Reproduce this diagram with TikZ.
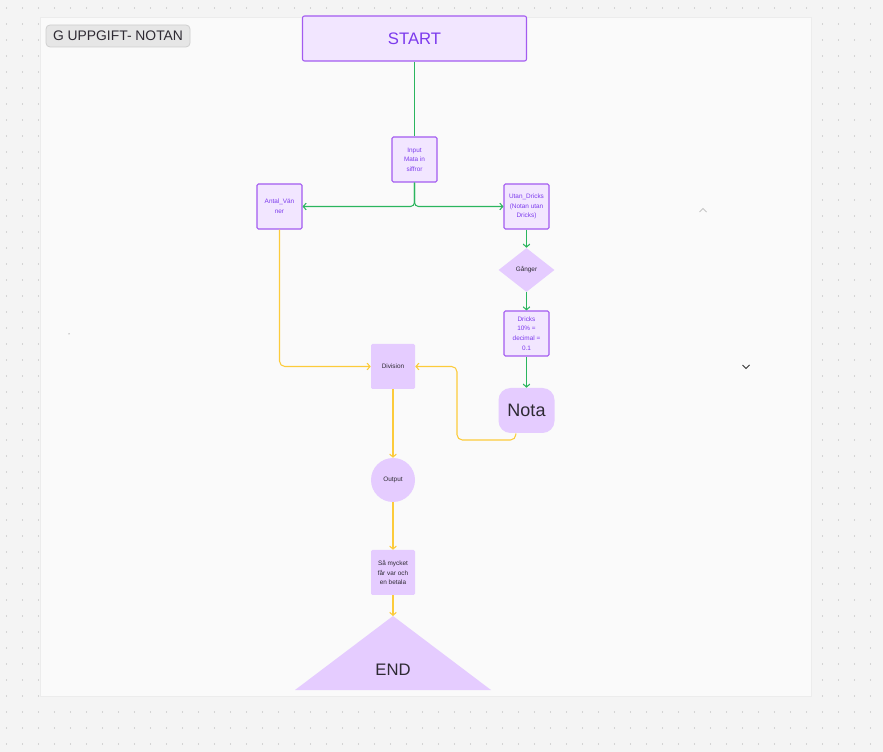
\documentclass[tikz,border=0pt]{standalone}
\usepackage{fontspec}
\setmainfont{Liberation Sans}
\usetikzlibrary{shapes.geometric,arrows.meta}
\definecolor{canvasbg}{HTML}{F4F4F4}
\definecolor{canvasdot}{HTML}{B5B5B5}
\definecolor{boardbg}{HTML}{FAFAFA}
\definecolor{boardline}{HTML}{ECECEC}
\definecolor{lightfill}{HTML}{F2E6FF}
\definecolor{darkfill}{HTML}{E5CCFF}
\definecolor{purpleline}{HTML}{A35BF0}
\definecolor{purpletext}{HTML}{7C3AED}
\definecolor{inktext}{HTML}{2E2A33}
\definecolor{flowgreen}{HTML}{2BB55E}
\definecolor{flowyellow}{HTML}{FCCB3B}
\definecolor{tagfill}{HTML}{E6E6E6}
\definecolor{tagline}{HTML}{CFCFCF}
\tikzset{
  tiny/.style={font=\fontsize{4.8}{7.2}\selectfont},
  lightbox/.style={draw=purpleline, line width=0.8pt, fill=lightfill, rounded corners=1pt,
    text=purpletext, align=center, inner sep=0pt, minimum width=33.75pt, minimum height=33.75pt, tiny},
  darkbox/.style={fill=darkfill, rounded corners=1pt, text=inktext, align=center, inner sep=0pt,
    minimum width=33pt, minimum height=33.75pt, tiny},
  greenflow/.style={draw=flowgreen, line width=0.8pt, rounded corners=3pt,
    -{Straight Barb[length=2.2pt,width=5pt,line width=0.8pt]}},
  yellowflow/.style={draw=flowyellow, line width=0.8pt, rounded corners=4pt,
    -{Straight Barb[length=2.2pt,width=5pt,line width=0.8pt]}},
}
\begin{document}
\begin{tikzpicture}[x=0.75pt,y=-0.75pt]
  % canvas with dotted grid
  \fill[canvasbg] (0,0) rectangle (883,752);
  \useasboundingbox (0,0) rectangle (883,752);
  \foreach \gx in {0,...,55} {
    \foreach \gy in {0,...,46} {
      \fill[canvasdot] (6.5+16*\gx, 8+16*\gy) circle (0.6);
    }
  }
  % white board
  \fill[boardbg, draw=boardline, line width=0.5pt] (40,17) rectangle (811,696);

  % title tag
  \node[draw=tagline, fill=tagfill, rounded corners=3pt, line width=0.6pt, text=inktext,
        minimum width=108pt, minimum height=16.5pt, inner sep=0pt,
        font=\fontsize{10.4}{13}\selectfont] (title) at (118,36) {G UPPGIFT- NOTAN};

  % flow nodes
  \node[lightbox, minimum width=168pt, minimum height=33.75pt, rounded corners=1.5pt,
        font=\fontsize{12.5}{15}\selectfont] (start) at (414.5,38.5) {START};
  \node[lightbox] (inp) at (414.5,159.5) {Input\\Mata in\\siffror};
  \node[lightbox] (antal) at (279.5,206.5) {Antal\_Vän\\ner};
  \node[lightbox] (utan) at (526.5,206.5) {Utan\_Dricks\\(Notan utan\\Dricks)};
  \node[diamond, fill=darkfill, aspect=1.27, minimum width=42pt, minimum height=33pt,
        inner sep=0pt, text=inktext, tiny] (ganger) at (526.5,270) {Gånger};
  \node[lightbox] (dricks) at (526.5,333.5) {Dricks\\10\% =\\decimal =\\0.1};
  \node[darkbox, minimum width=42pt, rounded corners=9pt,
        font=\fontsize{13.5}{16}\selectfont] (nota) at (526.5,410.5) {Nota};
  \node[darkbox] (division) at (393,366.5) {Division};
  \node[circle, fill=darkfill, minimum size=33pt, inner sep=0pt, text=inktext, tiny]
        (output) at (393,480) {Output};
  \node[darkbox] (samycket) at (393,572.5) {Så mycket\\får var och\\en betala};
  % END triangle
  \coordinate (endtop) at (393,616);
  \fill[darkfill] (endtop) -- (491,690) -- (295,690) -- cycle;
  \node[text=inktext, font=\fontsize{12.5}{15}\selectfont] (endlbl) at (393,670) {END};

  % green connectors
  \draw[draw=flowgreen, line width=0.8pt] (start.south) -- (inp.north);
  \draw[greenflow] (inp.south) |- (antal.east);
  \draw[greenflow] (inp.south) |- (utan.west);
  \draw[greenflow] (utan.south) -- (ganger.north);
  \draw[greenflow] (ganger.south) -- (dricks.north);
  \draw[greenflow] (dricks.south) -- (nota.north);

  % yellow connectors
  \coordinate (notafoot) at (457,440);
  \draw[yellowflow] (antal.south) |- (division.west);
  \draw[yellowflow] ([xshift=-8pt]nota.south) |- (notafoot) |- (division.east);
  \draw[yellowflow] (division.south) -- (output.north);
  \draw[yellowflow] (output.south) -- (samycket.north);
  \draw[yellowflow] (samycket.south) -- (endtop);

  % small canvas marks
  \draw[gray!45, line width=0.6pt] (699.5,212) -- (703,208.5) -- (706.5,212);
  \draw[black!80, line width=0.7pt] (742.5,365) -- (746,368.5) -- (749.5,365);
  \fill[black!70] (69,334) circle (0.5);
\end{tikzpicture}
\end{document}
